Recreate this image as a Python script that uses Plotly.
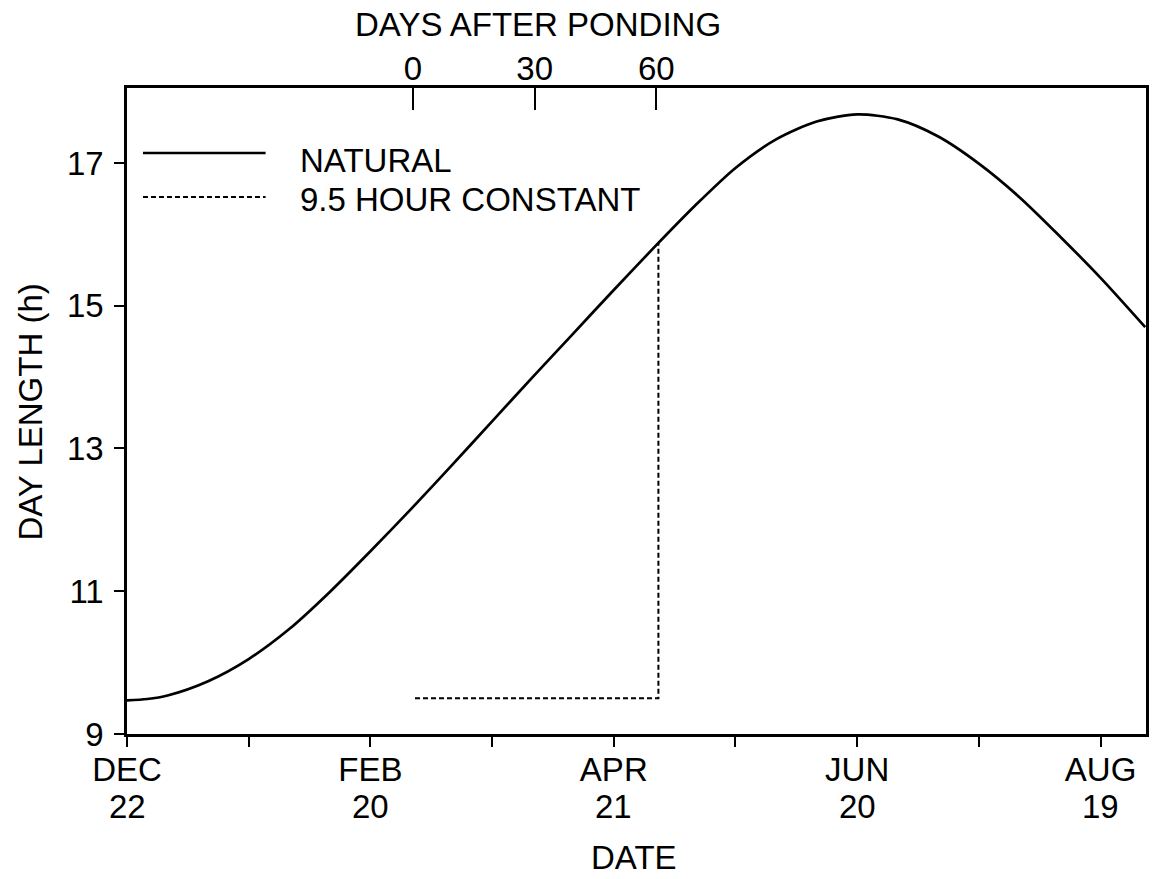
import plotly.graph_objects as go

# Natural day length through the season (days after Dec 22, hours)
days = [0, 5, 10, 20, 30, 40, 50, 60, 70, 80, 90, 100, 110, 120, 130,
        140, 150, 160, 170, 180, 190, 200, 210, 220, 230, 240, 251]
natural_h = [9.47, 9.49, 9.54, 9.74, 10.05, 10.47, 10.99, 11.56, 12.15, 12.76, 13.38,
             14.00, 14.61, 15.22, 15.82, 16.40, 16.93, 17.33, 17.58, 17.68, 17.61,
             17.37, 16.99, 16.52, 15.97, 15.39, 14.70]

# Short-day treatment: held at 9.5 h from ponding for 60 days
ponding_day = 70.5
constant_days = [71, 131, 131]
constant_h = [9.5, 9.5, 15.88]

date_ticks = [0, 60, 120, 180, 240]
month_labels = ["DEC", "FEB", "APR", "JUN", "AUG"]
day_labels = ["22", "20", "21", "20", "19"]
date_minor = [30, 90, 150, 210]
pond_offsets = [0, 30, 60]
pond_labels = ["0", "30", "60"]
y_ticks = [9, 11, 13, 15, 17]

FONT = "Liberation Sans"
FS = 33
x_range = [0, 251.2]

fig = go.Figure()
fig.add_trace(go.Scatter(x=days, y=natural_h, mode="lines", name="NATURAL",
                         line=dict(color="black", width=2.7, shape="spline",
                                   smoothing=0.8),
                         showlegend=False))
fig.add_trace(go.Scatter(x=constant_days, y=constant_h, mode="lines",
                         name="9.5 HOUR CONSTANT", xaxis="x2",
                         line=dict(color="black", width=2, dash="5px,3px"),
                         showlegend=False))

fig.update_layout(
    width=1154, height=879,
    margin=dict(l=127, r=5, t=88, b=145),
    paper_bgcolor="white", plot_bgcolor="white",
    font=dict(family=FONT, size=FS, color="black"),
    xaxis=dict(range=x_range, tickmode="array", tickvals=date_ticks,
               ticktext=month_labels, ticks="outside", ticklen=10, tickwidth=2,
               tickcolor="black", showline=True, linecolor="black", linewidth=2.5,
               mirror=True, showgrid=False, zeroline=False, ticklabelstandoff=-5,
               minor=dict(tickmode="array", tickvals=date_minor, ticks="outside",
                          ticklen=10, tickwidth=2, tickcolor="black", showgrid=False)),
    xaxis2=dict(range=x_range, overlaying="x", side="top", matches="x",
                tickmode="array",
                tickvals=[ponding_day + d for d in pond_offsets],
                ticktext=pond_labels, ticks="inside", ticklen=22, tickwidth=2,
                tickcolor="black", showline=False, showgrid=False, zeroline=False),
    yaxis=dict(range=[9, 18.05], tickmode="array", tickvals=y_ticks,
               ticks="outside", ticklen=10, tickwidth=2, tickcolor="black",
               showline=True, linecolor="black", linewidth=2.5, mirror=True,
               showgrid=False, zeroline=False, ticklabelstandoff=4),
)

# Second line of each date label (day of month) under the month name
for d, lab in zip(date_ticks, day_labels):
    fig.add_annotation(text=lab, xref="x", yref="paper", x=d, y=-0.113,
                       xanchor="center", yanchor="middle", showarrow=False)

# Legend drawn inside the frame with long line samples
leg_x0, leg_x1, txt_x = 0.0157, 0.136, 0.1683
fig.add_shape(type="line", xref="paper", yref="paper", x0=leg_x0, x1=leg_x1,
              y0=0.8993, y1=0.8993, line=dict(color="black", width=2.5))
fig.add_shape(type="line", xref="paper", yref="paper", x0=leg_x0, x1=leg_x1,
              y0=0.8311, y1=0.8311, line=dict(color="black", width=2, dash="5px,3px"))
fig.add_annotation(text="NATURAL", xref="paper", yref="paper", x=txt_x, y=0.8885,
                   xanchor="left", yanchor="middle", showarrow=False)
fig.add_annotation(text="9.5 HOUR CONSTANT", xref="paper", yref="paper", x=txt_x,
                   y=0.828, xanchor="left", yanchor="middle", showarrow=False)

# Axis titles
fig.add_annotation(text="DAYS AFTER PONDING", xref="paper", yref="paper",
                   x=0.403, y=1.0976, xanchor="center", yanchor="middle",
                   showarrow=False)
fig.add_annotation(text="DATE", xref="paper", yref="paper", x=0.498, y=-0.191,
                   xanchor="center", yanchor="middle", showarrow=False)
fig.add_annotation(text="DAY LENGTH (h)", xref="paper", yref="paper", x=-0.0949,
                   y=0.498, xanchor="center", yanchor="middle", textangle=-90,
                   showarrow=False)

fig.write_html("out.html")
